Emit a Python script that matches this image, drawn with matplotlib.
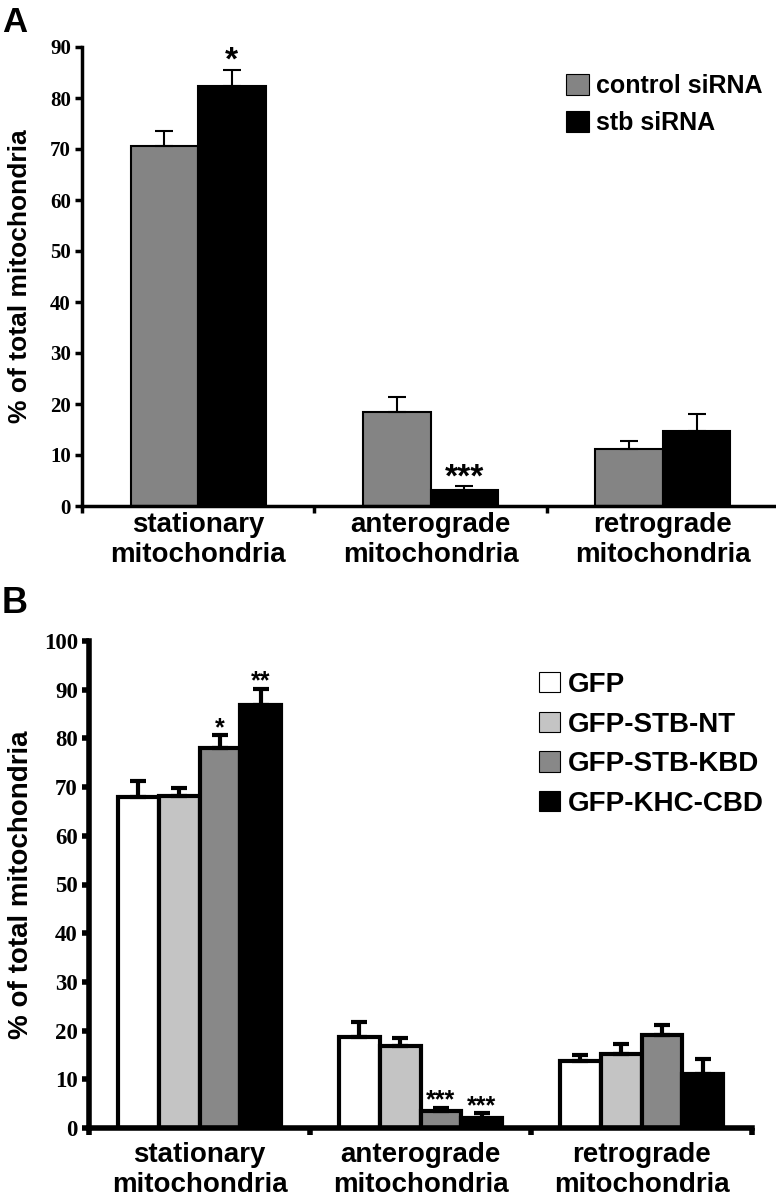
import matplotlib
matplotlib.use("Agg")
import numpy as np
from matplotlib import pyplot as plt

# ---- data ----
categories = ["stationary\nmitochondria", "anterograde\nmitochondria",
              "retrograde\nmitochondria"]

a_labels = ["control siRNA", "stb siRNA"]
a_means = [[70.6, 18.4, 11.1],
           [82.3, 3.1, 14.8]]
a_err = [[3.0, 2.9, 1.6],
         [3.2, 0.8, 3.2]]
a_stars = [["", "", ""],
           ["*", "***", ""]]

b_labels = ["GFP", "GFP-STB-NT", "GFP-STB-KBD", "GFP-KHC-CBD"]
b_means = [[67.9, 18.6, 13.7],
           [68.1, 16.9, 15.1],
           [78.0, 3.5, 19.0],
           [86.8, 2.0, 11.0]]
b_err = [[3.3, 3.2, 1.2],
         [1.7, 1.5, 2.2],
         [2.7, 0.7, 2.2],
         [3.4, 1.1, 3.1]]
b_stars = [["", "", ""],
           ["", "", ""],
           ["*", "***", ""],
           ["**", "***", ""]]

a_colors = ["#848484", "#000000"]
b_colors = ["#ffffff", "#c4c4c4", "#888888", "#000000"]

SANS = "Liberation Sans"
SERIF = "Liberation Serif"


def draw_panel(ax, means, errs, stars, labels, colors, width, lw, ylim,
               yticks, tick_fs, star_fs, cap, xpad, ylab_fs):
    n = len(means)
    x = np.arange(len(categories))
    for i in range(n):
        pos = x + (i - (n - 1) / 2) * width
        ax.bar(pos, means[i], width=width, color=colors[i],
               edgecolor="black", linewidth=lw, label=labels[i], zorder=2)
        ax.errorbar(pos, means[i],
                    yerr=[np.zeros(len(pos)), errs[i]],
                    fmt="none", ecolor="black", elinewidth=lw,
                    capsize=cap, capthick=lw, zorder=3)
        for j in range(len(pos)):
            if stars[i][j]:
                ax.annotate(stars[i][j], (pos[j], means[i][j] + errs[i][j]),
                            xytext=(0, 0), textcoords="offset points",
                            ha="center", va="baseline", fontsize=star_fs,
                            fontweight="bold", family=SANS)
    ax.set_xlim(-0.5, 2.5)
    ax.set_ylim(*ylim)
    ax.spines["top"].set_visible(False)
    ax.spines["right"].set_visible(False)
    ax.spines["left"].set_linewidth(lw + 1)
    ax.spines["bottom"].set_linewidth(lw + 1)
    ax.set_yticks(yticks)
    ax.set_yticklabels([str(v) for v in yticks], family=SERIF,
                       fontweight="bold", fontsize=tick_fs)
    ax.set_xticks([-0.5, 0.5, 1.5, 2.5])
    ax.set_xticklabels([])
    ax.set_xticks(x, minor=True)
    ax.set_xticklabels(categories, minor=True, family=SANS,
                       fontweight="bold", fontsize=20, linespacing=1.2)
    ax.tick_params(axis="both", which="major", direction="out", length=5,
                   width=lw + 1)
    ax.tick_params(axis="y", pad=3)
    ax.tick_params(axis="x", which="minor", length=0, pad=xpad)
    ax.set_ylabel("% of total mitochondria", family=SANS, fontweight="bold",
                  fontsize=ylab_fs)


fig = plt.figure(figsize=(7.76, 11.99), dpi=100)
W, H = 776.0, 1199.0

axA = fig.add_axes([82 / W, (H - 506) / H, (779 - 82) / W, (506 - 47) / H])
draw_panel(axA, a_means, a_err, a_stars, a_labels, a_colors, 0.29, 1.5,
           (0, 90), list(range(0, 91, 10)), 15, 24, 6.5, 4, 19)
axA.yaxis.set_label_coords((32 - 82) / 697, 0.5)
axA.legend(loc="upper left", bbox_to_anchor=(566 / W, 1 - 74 / H),
           bbox_transform=fig.transFigure, frameon=False,
           prop={"family": SANS, "weight": "bold", "size": 18},
           handlelength=0.9, handleheight=0.9, handletextpad=0.3,
           labelspacing=0.52, borderaxespad=0, borderpad=0)
for h in axA.get_legend().legend_handles:
    h.set_linewidth(0.8)

axB = fig.add_axes([89 / W, (H - 1128) / H, (752 - 89) / W, (1128 - 641) / H])
draw_panel(axB, b_means, b_err, b_stars, b_labels, b_colors, 0.185, 3.0,
           (0, 100), list(range(0, 101, 10)), 16.5, 18, 6, 10, 20)
axB.yaxis.set_label_coords((34 - 89) / 663, 0.5)
axB.legend(loc="upper left", bbox_to_anchor=(539 / W, 1 - 672 / H),
           bbox_transform=fig.transFigure, frameon=False,
           prop={"family": SANS, "weight": "bold", "size": 20},
           handlelength=0.75, handleheight=0.75, handletextpad=0.3,
           labelspacing=0.49, borderaxespad=0, borderpad=0)
for h in axB.get_legend().legend_handles:
    h.set_linewidth(0.8)

fig.text(2 / W, 1 - 6 / H, "A", family=SANS, fontweight="bold", fontsize=25,
         ha="left", va="top")
fig.text(2 / W, 1 - 586 / H, "B", family=SANS, fontweight="bold",
         fontsize=26, ha="left", va="top")

fig.savefig("out.png", dpi=100)
